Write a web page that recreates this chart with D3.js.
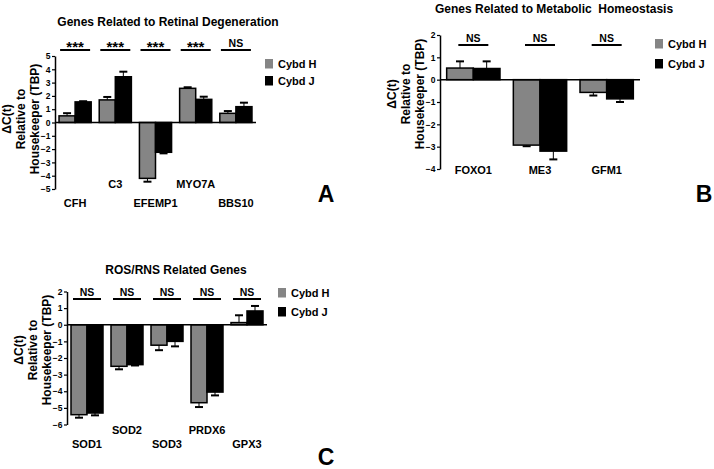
<!DOCTYPE html>
<html><head><meta charset="utf-8">
<script src="https://cdn.jsdelivr.net/npm/d3@7"></script>
<style>
html,body{margin:0;padding:0;background:#fff;}
svg{display:block;font-family:"Liberation Sans",Arial,sans-serif;font-weight:bold;}
</style></head>
<body>
<svg id="fig" width="714" height="469"></svg>
<script>
// ---------- DATA ----------
const seriesNames = ["Cybd H", "Cybd J"];

const genesA = ["CFH", "C3", "EFEMP1", "MYO7A", "BBS10"];
const cybdH_A = [0.5, 1.7, -4.2, 2.57, 0.69];
const cybdH_A_err = [0.2, 0.22, 0.25, 0.08, 0.17];
const cybdJ_A = [1.55, 3.44, -2.24, 1.74, 1.19];
const cybdJ_A_err = [0.05, 0.38, 0.08, 0.2, 0.3];
const sigA = ["***", "***", "***", "***", "NS"];
const ticksA = [-5, -4, -3, -2, -1, 0, 1, 2, 3, 4, 5];

const genesB = ["FOXO1", "ME3", "GFM1"];
const cybdH_B = [0.52, -2.93, -0.57];
const cybdH_B_err = [0.3, 0.05, 0.14];
const cybdJ_B = [0.5, -3.2, -0.86];
const cybdJ_B_err = [0.32, 0.37, 0.14];
const sigB = ["NS", "NS", "NS"];
const ticksB = [-4, -3, -2, -1, 0, 1, 2];

const genesC = ["SOD1", "SOD2", "SOD3", "PRDX6", "GPX3"];
const cybdH_C = [-5.41, -2.5, -1.23, -4.69, 0.13];
const cybdH_C_err = [0.18, 0.18, 0.3, 0.26, 0.44];
const cybdJ_C = [-5.31, -2.4, -1.0, -4.05, 0.83];
const cybdJ_C_err = [0.14, 0.05, 0.3, 0.2, 0.3];
const sigC = ["NS", "NS", "NS", "NS", "NS"];
const ticksC = [-6, -5, -4, -3, -2, -1, 0, 1, 2];

const titles = ["Genes Related to Retinal Degeneration", "Genes Related to Metabolic  Homeostasis", "ROS/RNS Related Genes"];
const panelLetters = ["A", "B", "C"];
const yLabelLines = ["\u0394C(t)", "Relative to", "Housekeeper (TBP)"];

// ---------- LAYOUT ----------
const colors = ["#858585", "#000000"];
const svg = d3.select("#fig");

const panels = [
  { genes: genesA, h: cybdH_A, he: cybdH_A_err, j: cybdJ_A, je: cybdJ_A_err, sig: sigA, ticks: ticksA,
    x0: 55, x1: 256, yTop: 56, yBot: 189, title: titles[0], titleX: 168, titleY: 22, titleAnchor: "middle", letter: panelLetters[0],
    letterX: 326, letterY: 202, sigLineY: 50, sigTextY: 47, sigW: 30, stagger: true, labelRows: [203, 184],
    legendX: 265, legendY: [59, 76], yLabY: 119, yLabX: [7, 21, 35] },
  { genes: genesB, h: cybdH_B, he: cybdH_B_err, j: cybdJ_B, je: cybdJ_B_err, sig: sigB, ticks: ticksB,
    x0: 440, x1: 640, yTop: 35, yBot: 169, title: titles[1], titleX: 435, titleY: 9, titleAnchor: "start", letter: panelLetters[1],
    letterX: 704, letterY: 202, sigLineY: 45, sigTextY: 42, sigW: 30, stagger: false, labelRows: [170, 170],
    legendX: 655, legendY: [39, 59], yLabY: 94, yLabX: [392, 406, 420] },
  { genes: genesC, h: cybdH_C, he: cybdH_C_err, j: cybdJ_C, je: cybdJ_C_err, sig: sigC, ticks: ticksC,
    x0: 67, x1: 267, yTop: 291.5, yBot: 424.5, title: titles[2], titleX: 176, titleY: 270, titleAnchor: "middle", letter: panelLetters[2],
    letterX: 326, letterY: 465, sigLineY: 299, sigTextY: 295.5, sigW: 28, stagger: true, labelRows: [444.5, 430.5],
    legendX: 278, legendY: [288, 307], yLabY: 350, yLabX: [19, 33, 47] }
];

panels.forEach(p => {
  const g = svg.append("g");
  const x = d3.scaleBand().domain(p.genes).range([p.x0, p.x1]).paddingInner(0.2).paddingOuter(0.1);
  const xs = d3.scaleBand().domain(seriesNames).range([0, x.bandwidth()]);
  const tmin = d3.min(p.ticks), tmax = d3.max(p.ticks);
  const y = d3.scaleLinear().domain([tmin, tmax]).range([p.yBot, p.yTop]);

  // title
  g.append("text").attr("x", p.titleX).attr("y", p.titleY).attr("dy", "0.35em")
    .attr("text-anchor", p.titleAnchor).attr("font-size", 12).attr("xml:space", "preserve")
    .style("white-space", "pre").text(p.title);

  // rows of data
  const rows = p.genes.map((gene, i) => ({
    gene, i, sig: p.sig[i],
    vals: [{ s: seriesNames[0], v: p.h[i], e: p.he[i] }, { s: seriesNames[1], v: p.j[i], e: p.je[i] }]
  }));

  const grp = g.selectAll("g.grp").data(rows).join("g").attr("class", "grp")
    .attr("transform", d => `translate(${x(d.gene)},0)`);

  // error bars (drawn first, behind bars)
  grp.selectAll("g.err").data(d => d.vals).join("g").attr("class", "err").each(function (d) {
    const sgn = d.v >= 0 ? 1 : -1;
    const cx = xs(d.s) + xs.bandwidth() / 2;
    const e = d3.select(this);
    e.append("line").attr("x1", cx).attr("x2", cx).attr("y1", y(d.v)).attr("y2", y(d.v + sgn * d.e))
      .attr("stroke", "#000").attr("stroke-width", 1);
    e.append("line").attr("x1", cx - 4).attr("x2", cx + 4).attr("y1", y(d.v + sgn * d.e)).attr("y2", y(d.v + sgn * d.e))
      .attr("stroke", "#000").attr("stroke-width", 2);
  });

  // bars
  grp.selectAll("rect").data(d => d.vals).join("rect")
    .attr("x", d => xs(d.s))
    .attr("width", xs.bandwidth())
    .attr("y", d => y(Math.max(0, d.v)))
    .attr("height", d => Math.abs(y(d.v) - y(0)))
    .attr("fill", (d, k) => colors[k])
    .attr("stroke", "#000").attr("stroke-width", 1.5);

  // zero line
  g.append("line").attr("x1", p.x0).attr("x2", p.x1).attr("y1", y(0)).attr("y2", y(0))
    .attr("stroke", "#000").attr("stroke-width", 1.5);

  // y axis
  const ax = g.append("g").attr("transform", `translate(${p.x0},0)`)
    .call(d3.axisLeft(y).tickValues(p.ticks).tickFormat(d3.format("d")).tickSize(3).tickSizeOuter(0).tickPadding(1.5));
  ax.select(".domain").attr("stroke-width", 1.5);
  ax.selectAll(".tick line").attr("stroke-width", 1.2);
  ax.selectAll("text").attr("font-size", 8.5).attr("font-weight", "bold").attr("font-family", "Liberation Sans, Arial, sans-serif");

  // significance
  grp.append("line")
    .attr("x1", x.bandwidth() / 2 - p.sigW / 2).attr("x2", x.bandwidth() / 2 + p.sigW / 2)
    .attr("y1", p.sigLineY).attr("y2", p.sigLineY).attr("stroke", "#000").attr("stroke-width", 2);
  grp.append("text").attr("x", x.bandwidth() / 2).attr("y", p.sigTextY)
    .attr("text-anchor", "middle")
    .attr("font-size", d => d.sig === "***" ? 15 : 10.5)
    .attr("dy", d => d.sig === "***" ? "0.3em" : "0")
    .text(d => d.sig);

  // category labels
  grp.append("text").attr("x", x.bandwidth() / 2)
    .attr("y", d => (p.stagger && d.i % 2 === 1 ? p.labelRows[1] : p.labelRows[0]))
    .attr("dy", "0.35em").attr("text-anchor", "middle").attr("font-size", 11)
    .text(d => d.gene);

  // y label
  p.yLabX.forEach((lx, k) => {
    g.append("text").attr("transform", `translate(${lx},${p.yLabY}) rotate(-90)`)
      .attr("text-anchor", "middle").attr("dy", "0.35em").attr("font-size", 12).text(yLabelLines[k]);
  });

  // legend
  seriesNames.forEach((s, k) => {
    g.append("rect").attr("x", p.legendX).attr("y", p.legendY[k]).attr("width", 8).attr("height", 9.5).attr("fill", colors[k]);
    g.append("text").attr("x", p.legendX + 13).attr("y", p.legendY[k] + 5).attr("dy", "0.35em")
      .attr("font-size", 11).text(s);
  });

  // panel letter
  g.append("text").attr("x", p.letterX).attr("y", p.letterY).attr("text-anchor", "middle")
    .attr("font-size", 23).text(p.letter);
});
</script>
</body></html>
